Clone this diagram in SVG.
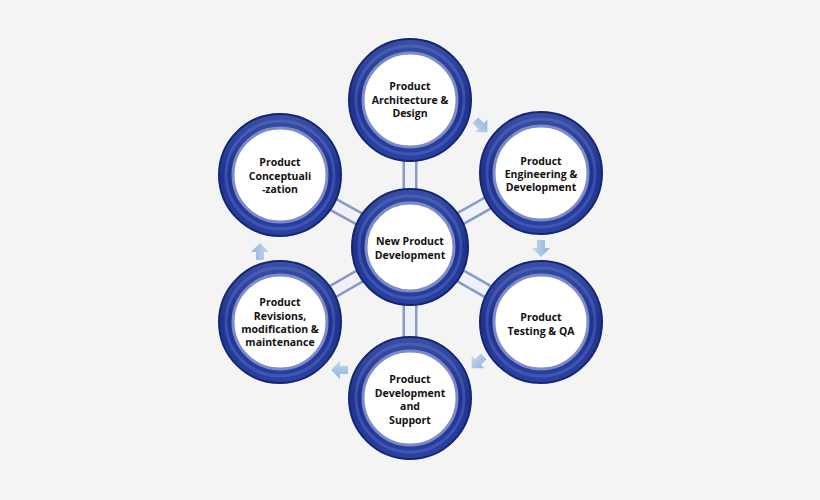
<svg xmlns="http://www.w3.org/2000/svg" width="820" height="500" viewBox="0 0 820 500">
<defs>
<linearGradient id="ring" x1="0" y1="0" x2="0" y2="1">
<stop offset="0" stop-color="#3a4fa6"/><stop offset="0.5" stop-color="#1e3390"/><stop offset="1" stop-color="#2a42a3"/>
</linearGradient>
<linearGradient id="arr" x1="0" y1="0" x2="1" y2="0">
<stop offset="0" stop-color="#c6d9ef"/><stop offset="1" stop-color="#8fb3dc"/>
</linearGradient>
<g id="arrow"><path d="M-4,-8 H4 V0 H9 L0,9 L-9,0 H-4 Z" fill="url(#arr)"/></g>
</defs>
<style>
.ring{fill:url(#ring);stroke:#15266f;stroke-width:2}
.inner{fill:#fff;stroke:#7d8cc6;stroke-width:3}
.gl{fill:none;stroke:#6f82d2;stroke-width:3;opacity:.35}
text{font-family:"Open Sans","DejaVu Sans",sans-serif;font-weight:bold;font-size:10.5px;fill:#111;text-anchor:middle}
</style>
<rect width="820" height="500" fill="#f4f4f4"/>
<g id="connectors">
<g stroke="#8a99c6" stroke-width="15"><line x1="410" y1="247" x2="410" y2="100"/><line x1="410" y1="247" x2="541" y2="173"/><line x1="410" y1="247" x2="541" y2="322"/><line x1="410" y1="247" x2="410" y2="398"/><line x1="410" y1="247" x2="280" y2="322"/><line x1="410" y1="247" x2="280" y2="175"/></g>
<g stroke="#eef1f8" stroke-width="10"><line x1="410" y1="247" x2="410" y2="100"/><line x1="410" y1="247" x2="541" y2="173"/><line x1="410" y1="247" x2="541" y2="322"/><line x1="410" y1="247" x2="410" y2="398"/><line x1="410" y1="247" x2="280" y2="322"/><line x1="410" y1="247" x2="280" y2="175"/></g>
<use href="#arrow" transform="translate(481,126) rotate(-45)"/>
<use href="#arrow" transform="translate(541,248)"/>
<use href="#arrow" transform="translate(478,362) rotate(45)"/>
<use href="#arrow" transform="translate(340,370) rotate(90)"/>
<use href="#arrow" transform="translate(260,252) rotate(180)"/>
</g>
<g id="n-top"><circle class="ring" cx="410" cy="100" r="61"/><circle class="gl" cx="410" cy="100" r="54"/><circle class="inner" cx="410" cy="100" r="47"/><text x="410" y="90">Product</text><text x="410" y="104">Architecture &amp;</text><text x="410" y="117">Design</text></g>
<g id="n-tr"><circle class="ring" cx="541" cy="173" r="61"/><circle class="gl" cx="541" cy="173" r="54"/><circle class="inner" cx="541" cy="173" r="47"/><text x="541" y="165">Product</text><text x="541" y="178">Engineering &amp;</text><text x="541" y="191">Development</text></g>
<g id="n-br"><circle class="ring" cx="541" cy="322" r="61"/><circle class="gl" cx="541" cy="322" r="54"/><circle class="inner" cx="541" cy="322" r="47"/><text x="541" y="321">Product</text><text x="541" y="335">Testing &amp; QA</text></g>
<g id="n-bot"><circle class="ring" cx="410" cy="398" r="61"/><circle class="gl" cx="410" cy="398" r="54"/><circle class="inner" cx="410" cy="398" r="47"/><text x="410" y="383">Product</text><text x="410" y="397">Development</text><text x="410" y="410">and</text><text x="410" y="424">Support</text></g>
<g id="n-bl"><circle class="ring" cx="280" cy="322" r="61"/><circle class="gl" cx="280" cy="322" r="54"/><circle class="inner" cx="280" cy="322" r="47"/><text x="280" y="306">Product</text><text x="280" y="320">Revisions,</text><text x="280" y="333">modification &amp;</text><text x="280" y="346">maintenance</text></g>
<g id="n-tl"><circle class="ring" cx="280" cy="175" r="61"/><circle class="gl" cx="280" cy="175" r="54"/><circle class="inner" cx="280" cy="175" r="47"/><text x="280" y="166">Product</text><text x="280" y="180">Conceptuali</text><text x="280" y="193">-zation</text></g>
<g id="n-center"><circle class="ring" cx="410" cy="247" r="58"/><circle class="gl" cx="410" cy="247" r="51"/><circle class="inner" cx="410" cy="247" r="44"/><text x="410" y="245">New Product</text><text x="410" y="259">Development</text></g>
</svg>
